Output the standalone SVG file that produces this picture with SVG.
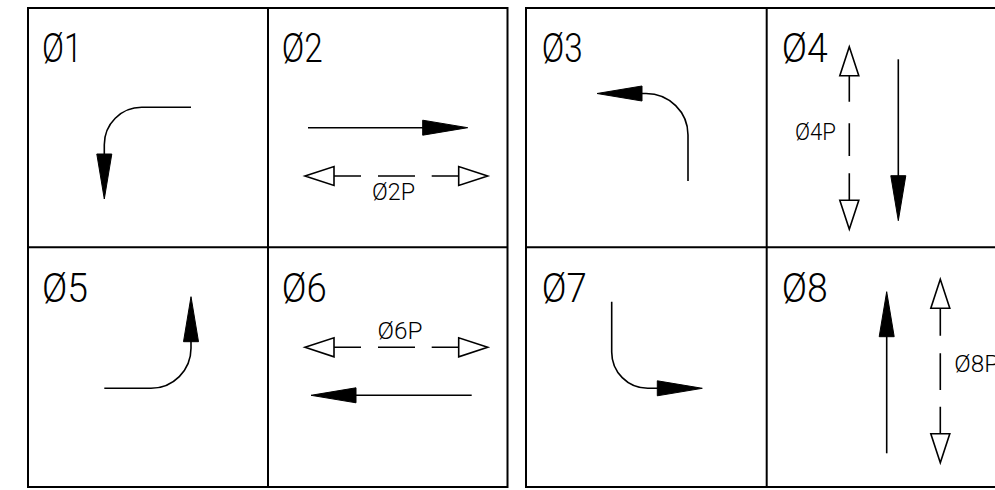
<svg xmlns="http://www.w3.org/2000/svg" xmlns:xlink="http://www.w3.org/1999/xlink" width="995" height="490" viewBox="0 0 995 490">
<style>
.frame{fill:none;stroke:#000;stroke-width:2}
.ln{fill:none;stroke:#000;stroke-width:1.6}
.big{font-family:Roboto,"Liberation Sans",sans-serif;font-weight:300;font-size:40px;fill:#000}
.sm{font-family:Roboto,"Liberation Sans",sans-serif;font-weight:300;font-size:23px;fill:#000}
</style>
<defs>
<polygon id="fa" points="0,0 -45,-7.5 -45,7.5" fill="#000" stroke="#000" stroke-width="1"/>
<polygon id="oa" points="0,0 -29,-9.5 -29,9.5" fill="#fff" stroke="#000" stroke-width="1.6" stroke-linejoin="miter"/>
</defs>
<rect width="995" height="490" fill="#fff"/>
<g id="frames">
<rect class="frame" x="28" y="8" width="479.5" height="479"/>
<line class="frame" x1="268" y1="8" x2="268" y2="487"/>
<line class="frame" x1="28" y1="247.3" x2="507.5" y2="247.3"/>
<rect class="frame" x="526" y="8" width="480" height="479"/>
<line class="frame" x1="766.7" y1="8" x2="766.7" y2="487"/>
<line class="frame" x1="526" y1="247.3" x2="1006" y2="247.3"/>
</g>
<g id="cell1">
<text class="big" x="42" y="62" textLength="40" lengthAdjust="spacingAndGlyphs">Ø1</text>
<path class="ln" d="M191,107.3 H141.7 A37.4,37.4 0 0 0 104.3,144.7 V156"/>
<use xlink:href="#fa" transform="translate(104.3,199) rotate(90)"/>
</g>
<g id="cell2">
<text class="big" x="281.7" y="62" textLength="41" lengthAdjust="spacingAndGlyphs">Ø2</text>
<path class="ln" d="M308,127.7 H425"/>
<use xlink:href="#fa" transform="translate(467.7,127.7)"/>
<path class="ln" d="M334,176 H361 M378,176 H415 M431.7,176 H459"/>
<use xlink:href="#oa" transform="translate(305,176) rotate(180)"/>
<use xlink:href="#oa" transform="translate(487.7,176)"/>
<text class="sm" x="372" y="200" textLength="43" lengthAdjust="spacingAndGlyphs">Ø2P</text>
</g>
<g id="cell3">
<text class="big" x="541.7" y="62" textLength="41" lengthAdjust="spacingAndGlyphs">Ø3</text>
<path class="ln" d="M688,181 V135 A42,41.5 0 0 0 646,93.5 H640"/>
<use xlink:href="#fa" transform="translate(597,93.5) rotate(180)"/>
</g>
<g id="cell4">
<text class="big" x="781.7" y="62" textLength="46" lengthAdjust="spacingAndGlyphs">Ø4</text>
<path class="ln" d="M849.3,75.7 V101.7 M849.3,123.3 V156 M849.3,173.3 V200"/>
<use xlink:href="#oa" transform="translate(849.3,46.7) rotate(-90)"/>
<use xlink:href="#oa" transform="translate(849.3,229.3) rotate(90)"/>
<text class="sm" x="795" y="140" textLength="41" lengthAdjust="spacingAndGlyphs">Ø4P</text>
<path class="ln" d="M898.3,59.3 V178"/>
<use xlink:href="#fa" transform="translate(898.3,220.7) rotate(90)"/>
</g>
<g id="cell5">
<text class="big" x="42" y="302" textLength="46" lengthAdjust="spacingAndGlyphs">Ø5</text>
<path class="ln" d="M104.3,388.3 H151 A40,40 0 0 0 191,348.3 V340"/>
<use xlink:href="#fa" transform="translate(191,296.7) rotate(-90)"/>
</g>
<g id="cell6">
<text class="big" x="281.7" y="302" textLength="45" lengthAdjust="spacingAndGlyphs">Ø6</text>
<path class="ln" d="M334,347.3 H361 M378,347.3 H415 M431.7,347.3 H459"/>
<use xlink:href="#oa" transform="translate(305,347.3) rotate(180)"/>
<use xlink:href="#oa" transform="translate(487.7,347.3)"/>
<text class="sm" x="377.5" y="339" textLength="45" lengthAdjust="spacingAndGlyphs">Ø6P</text>
<path class="ln" d="M471.7,395.3 H354"/>
<use xlink:href="#fa" transform="translate(311,395.3) rotate(180)"/>
</g>
<g id="cell7">
<text class="big" x="541.7" y="302" textLength="45" lengthAdjust="spacingAndGlyphs">Ø7</text>
<path class="ln" d="M611.7,301.7 V352 A36,36.3 0 0 0 647.7,388.3 H660"/>
<use xlink:href="#fa" transform="translate(702.3,388.3)"/>
</g>
<g id="cell8">
<text class="big" x="781.7" y="302" textLength="46" lengthAdjust="spacingAndGlyphs">Ø8</text>
<path class="ln" d="M886.7,453.3 V334"/>
<use xlink:href="#fa" transform="translate(886.7,291.7) rotate(-90)"/>
<path class="ln" d="M940.3,308.3 V335.7 M940.3,353.3 V390 M940.3,406.7 V433.3"/>
<use xlink:href="#oa" transform="translate(940.3,279.3) rotate(-90)"/>
<use xlink:href="#oa" transform="translate(940.3,462.7) rotate(90)"/>
<text class="sm" x="954.3" y="372" textLength="45" lengthAdjust="spacingAndGlyphs">Ø8P</text>
</g>
</svg>
